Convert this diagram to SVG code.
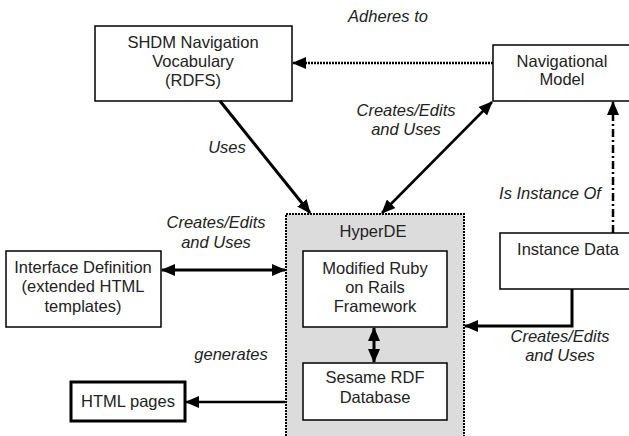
<svg xmlns="http://www.w3.org/2000/svg" width="629" height="436" viewBox="0 0 629 436">
<style>
.box{fill:#fff;stroke:#000;stroke-width:1.5}
.t{font-family:"Liberation Sans",Arial,sans-serif;font-size:16.5px;fill:#222;text-anchor:middle}
.lbl{font-family:"Liberation Sans",Arial,sans-serif;font-size:16.5px;fill:#222;text-anchor:middle;font-style:italic}
.c{fill:none;stroke:#000;stroke-width:3}
</style>
<defs>
<marker id="ah" markerUnits="userSpaceOnUse" markerWidth="14" markerHeight="12" refX="13" refY="6" orient="auto-start-reverse" viewBox="0 0 14 12">
<path d="M0,0 L14,6 L0,12 Z" fill="#000"/>
</marker>
</defs>
<g id="hyperde">
<rect x="286" y="214" width="178" height="230" fill="#dcdcdc" stroke="#000" stroke-width="2" stroke-dasharray="2,1"/>
<text class="t" x="373" y="237">HyperDE</text>
</g>
<g id="shdm">
<rect class="box" x="95" y="26" width="197" height="75"/>
<text class="t" x="193" y="48">SHDM Navigation</text>
<text class="t" x="193" y="67">Vocabulary</text>
<text class="t" x="193" y="86">(RDFS)</text>
</g>
<g id="navmodel">
<rect class="box" x="493" y="45" width="145" height="56"/>
<text class="t" x="562" y="67">Navigational</text>
<text class="t" x="562" y="85">Model</text>
</g>
<g id="instancedata">
<rect class="box" x="500" y="233" width="140" height="56"/>
<text class="t" x="568" y="255">Instance Data</text>
</g>
<g id="interface">
<rect class="box" x="6" y="251" width="155" height="76"/>
<text class="t" x="83" y="273">Interface Definition</text>
<text class="t" x="83" y="292">(extended HTML</text>
<text class="t" x="83" y="312">templates)</text>
</g>
<g id="html">
<rect x="71" y="382" width="114" height="39" fill="#fff" stroke="#000" stroke-width="3"/>
<text class="t" x="128" y="407">HTML pages</text>
</g>
<g id="ruby">
<rect class="box" x="303" y="251" width="144" height="76"/>
<text class="t" x="375" y="274">Modified Ruby</text>
<text class="t" x="375" y="293">on Rails</text>
<text class="t" x="375" y="312">Framework</text>
</g>
<g id="sesame">
<rect class="box" x="303" y="363" width="144" height="57"/>
<text class="t" x="375" y="383">Sesame RDF</text>
<text class="t" x="375" y="403">Database</text>
</g>
<g id="connectors">
<line x1="493" y1="63" x2="293" y2="63" stroke="#000" stroke-width="2.5" stroke-dasharray="2,1" marker-end="url(#ah)"/>
<line class="c" x1="220" y1="101" x2="310" y2="213" marker-end="url(#ah)"/>
<line x1="382" y1="213" x2="492" y2="102" stroke="#000" stroke-width="2.5" marker-start="url(#ah)" marker-end="url(#ah)"/>
<line x1="613" y1="233" x2="613" y2="102" stroke="#000" stroke-width="2.5" stroke-dasharray="8,3,2,3" marker-end="url(#ah)"/>
<line class="c" x1="162" y1="270" x2="285" y2="270" marker-start="url(#ah)" marker-end="url(#ah)"/>
<line class="c" x1="374" y1="328" x2="374" y2="362" marker-start="url(#ah)" marker-end="url(#ah)"/>
<line x1="285" y1="402" x2="186" y2="402" stroke="#000" stroke-width="2.5" marker-end="url(#ah)"/>
<polyline class="c" points="572,289 572,326 465,326" marker-end="url(#ah)"/>
</g>
<g id="labels">
<text class="lbl" x="388" y="22">Adheres to</text>
<text class="lbl" x="227" y="153">Uses</text>
<text class="lbl" x="406" y="116">Creates/Edits</text>
<text class="lbl" x="406" y="135">and Uses</text>
<text class="lbl" x="550" y="199">Is Instance Of</text>
<text class="lbl" x="216" y="228">Creates/Edits</text>
<text class="lbl" x="216" y="248">and Uses</text>
<text class="lbl" x="231" y="360">generates</text>
<text class="lbl" x="560" y="342">Creates/Edits</text>
<text class="lbl" x="560" y="361">and Uses</text>
</g>
</svg>
